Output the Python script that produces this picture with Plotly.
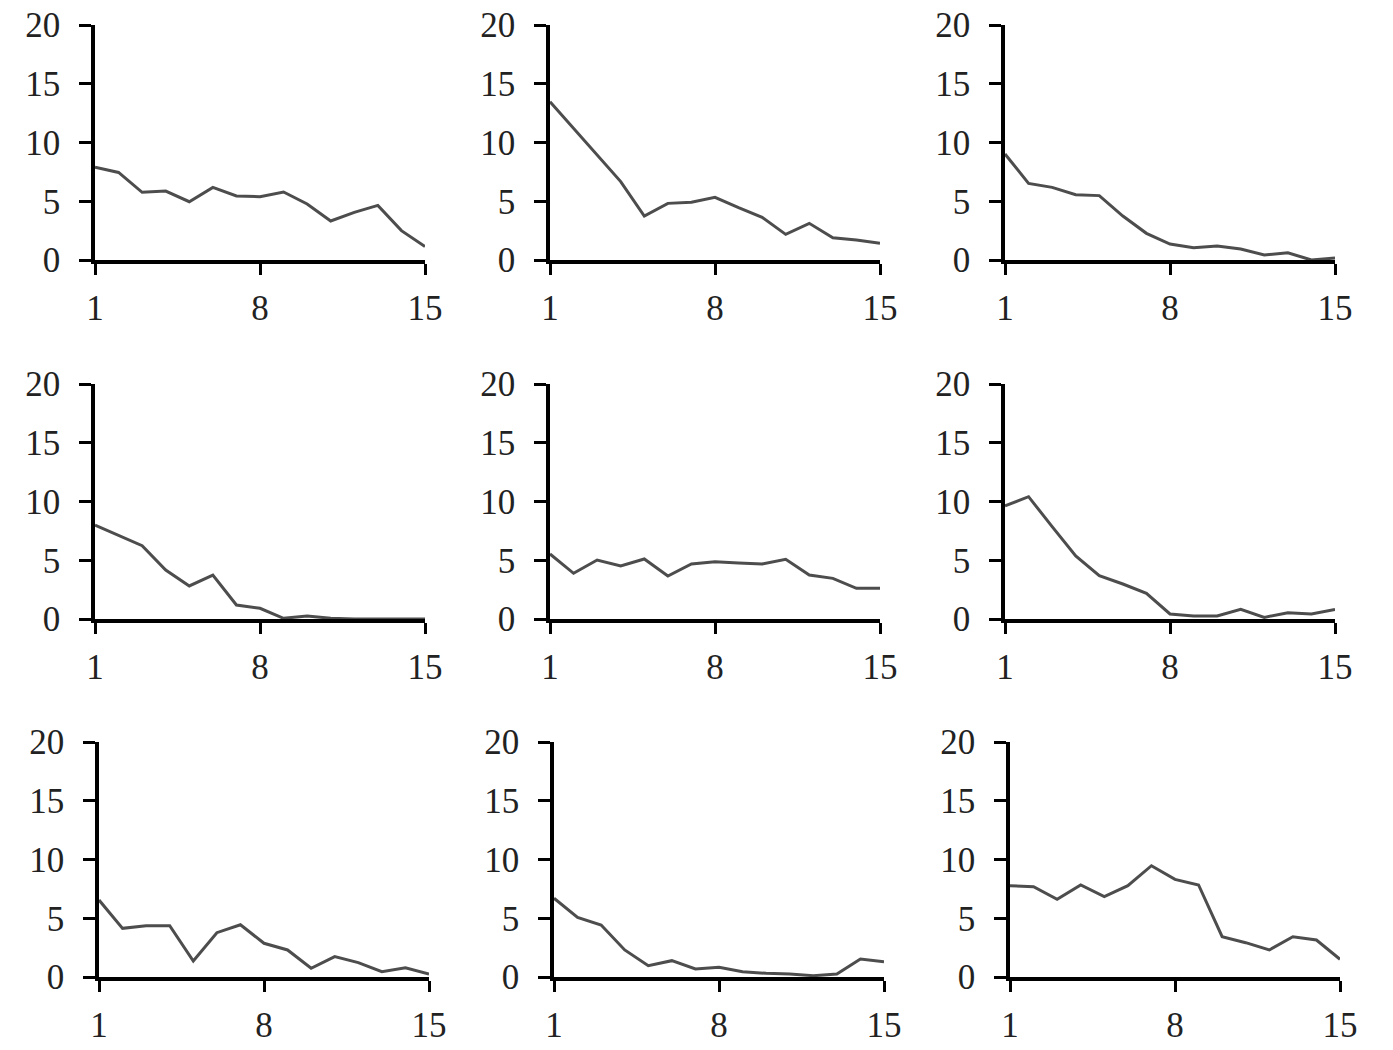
import plotly.graph_objects as go

x_vals = list(range(1, 16))
x_ticks = [1, 8, 15]
y_ticks = [0, 5, 10, 15, 20]

panel_1 = [7.9, 7.45, 5.76, 5.87, 4.96, 6.18, 5.45, 5.39, 5.79, 4.77, 3.32, 4.06, 4.65, 2.50, 1.14]
panel_2 = [13.47, 11.2, 9.0, 6.67, 3.74, 4.82, 4.91, 5.33, 4.45, 3.63, 2.18, 3.12, 1.90, 1.70, 1.42]
panel_3 = [9.02, 6.52, 6.18, 5.56, 5.48, 3.74, 2.27, 1.36, 1.05, 1.19, 0.94, 0.43, 0.62, 0.0, 0.17]
panel_4 = [8.0, 7.09, 6.24, 4.17, 2.81, 3.74, 1.19, 0.91, 0.06, 0.26, 0.06, 0.0, 0.0, 0.0, 0.0]
panel_5 = [5.53, 3.89, 5.02, 4.51, 5.11, 3.66, 4.68, 4.88, 4.77, 4.68, 5.08, 3.74, 3.46, 2.61, 2.61]
panel_6 = [9.62, 10.41, 7.86, 5.36, 3.69, 2.98, 2.18, 0.43, 0.26, 0.26, 0.82, 0.14, 0.54, 0.43, 0.82]
panel_7 = [6.55, 4.14, 4.37, 4.37, 1.36, 3.77, 4.45, 2.87, 2.30, 0.74, 1.73, 1.22, 0.45, 0.79, 0.26]
panel_8 = [6.70, 5.08, 4.43, 2.30, 0.96, 1.39, 0.68, 0.82, 0.45, 0.31, 0.26, 0.11, 0.26, 1.53, 1.30]
panel_9 = [7.77, 7.69, 6.61, 7.83, 6.84, 7.77, 9.47, 8.31, 7.83, 3.43, 2.92, 2.30, 3.43, 3.15, 1.51]

panels = [panel_1, panel_2, panel_3, panel_4, panel_5, panel_6, panel_7, panel_8, panel_9]

W, H = 1393, 1050
# pixel geometry of each panel: (x_left, x_right), (y_top, y_bottom)
col_x = [[(95, 425), (550, 880), (1005, 1335)],
         [(95, 425), (550, 880), (1005, 1335)],
         [(99, 429), (554, 884), (1010, 1340)]]
row_y = [(25, 260), (384, 619), (742, 977)]

font_family = "Liberation Serif"
fig = go.Figure()
layout = dict(
    width=W, height=H,
    margin=dict(l=0, r=0, t=0, b=0, autoexpand=False),
    paper_bgcolor="white", plot_bgcolor="white",
    showlegend=False,
    font=dict(family=font_family, size=35, color="#222222"),
)

for k, vals in enumerate(panels):
    r, c = divmod(k, 3)
    xl, xr = col_x[r][c]
    yt, yb = row_y[r]
    n = k + 1
    xa = "x" if n == 1 else f"x{n}"
    ya = "y" if n == 1 else f"y{n}"
    fig.add_trace(go.Scatter(x=x_vals, y=vals, mode="lines",
                             line=dict(color="#4d4d4d", width=3),
                             xaxis=xa, yaxis=ya, cliponaxis=False))
    xkey = "xaxis" if n == 1 else f"xaxis{n}"
    ykey = "yaxis" if n == 1 else f"yaxis{n}"
    layout[xkey] = dict(
        domain=[xl / W, xr / W], anchor=ya, range=[1, 15],
        tickvals=x_ticks, ticktext=[str(t) for t in x_ticks],
        showgrid=False, zeroline=False, showline=True,
        linecolor="black", linewidth=3.5, automargin=False,
        ticks="outside", ticklen=11, tickwidth=3, tickcolor="black",
        ticklabelstandoff=3,
    )
    layout[ykey] = dict(
        domain=[1 - yb / H, 1 - yt / H], anchor=xa, range=[0, 20],
        tickvals=y_ticks, ticktext=[str(t) for t in y_ticks],
        showgrid=False, zeroline=False, showline=True,
        linecolor="black", linewidth=3.5, automargin=False,
        ticks="outside", ticklen=12, tickwidth=3, tickcolor="black",
        ticklabelstandoff=12,
    )

fig.update_layout(**layout)
fig.write_html("out.html")
